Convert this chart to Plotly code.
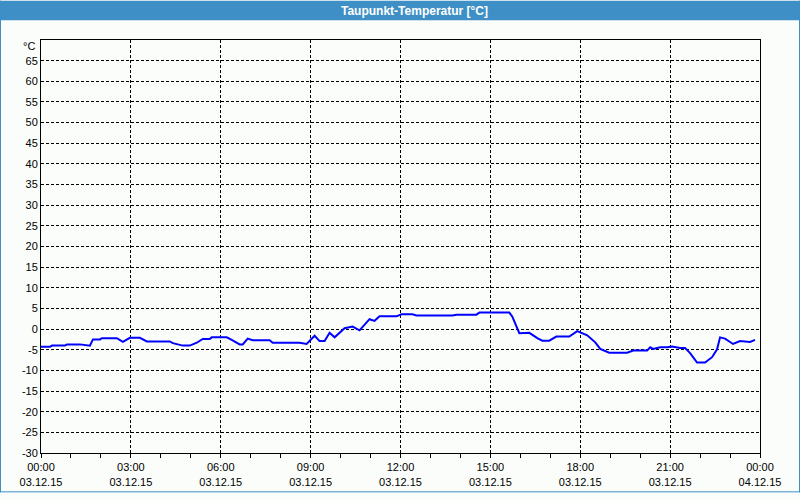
import plotly.graph_objects as go

times = ["00:00","00:18","00:22","00:48","00:52","01:18","01:38","01:44","01:58","02:02","02:32","02:44","02:58","03:18","03:32","04:18","04:24","04:44","04:58","05:12","05:24","05:38","05:42","06:12","06:22","06:38","06:44","06:54","07:04","07:38","07:44","08:38","08:52","09:08","09:18","09:28","09:38","09:48","10:08","10:24","10:38","10:58","11:08","11:18","11:52","12:02","12:24","12:32","13:44","13:52","14:32","14:38","15:38","15:44","15:58","16:14","16:18","16:34","16:44","16:58","17:12","17:38","17:54","18:14","18:30","18:40","18:58","19:34","19:46","20:14","20:20","20:26","20:40","20:54","21:04","21:20","21:30","21:40","21:54","22:10","22:24","22:34","22:40","22:50","23:06","23:20","23:34","23:40","23:50"]
values = [-4.3,-4.3,-4.0,-4.0,-3.7,-3.7,-4.0,-2.5,-2.5,-2.2,-2.2,-3.1,-2.1,-2.1,-3.0,-3.0,-3.4,-4.0,-4.0,-3.3,-2.4,-2.4,-2.0,-2.0,-2.6,-3.7,-3.7,-2.3,-2.7,-2.7,-3.3,-3.3,-3.6,-1.6,-2.9,-2.9,-0.9,-2.0,0.2,0.6,-0.3,2.4,2.0,3.1,3.1,3.6,3.6,3.3,3.3,3.5,3.5,4.0,4.0,3.0,-1.0,-0.8,-0.9,-2.2,-2.8,-2.8,-1.8,-1.8,-0.5,-1.5,-3.2,-4.8,-5.7,-5.7,-5.2,-5.2,-4.4,-4.8,-4.4,-4.4,-4.2,-4.6,-4.6,-5.8,-8.1,-8.1,-6.8,-4.9,-2.0,-2.3,-3.6,-2.9,-3.1,-3.1,-2.6]

x = ["2015-12-03 " + t for t in times]

tick_vals = ["2015-12-03 %02d:00" % h for h in range(0, 24, 3)] + ["2015-12-04 00:00"]
tick_text = ["%02d:00<br>03.12.15" % h for h in range(0, 24, 3)] + ["00:00<br>04.12.15"]
y_ticks = list(range(-30, 70, 5))

fig = go.Figure(go.Scatter(x=x, y=values, mode="lines",
                           line=dict(color="#0000ff", width=2), hoverinfo="skip"))

L, R, T, B = 41, 40, 40, 40
W, H = 800, 500
pw, ph = W - L - R, H - T - B
def px(xp): return (xp - L) / pw
def py(yp): return (H - B - yp) / ph

font = dict(family="Liberation Sans, Arial, sans-serif", size=11, color="#000000")
blue = "#3d8fc6"

fig.update_layout(
    width=W, height=H, margin=dict(l=L, r=R, t=T, b=B),
    paper_bgcolor="#fbfdfb", plot_bgcolor="#fbfdfb",
    showlegend=False, font=font,
    xaxis=dict(range=["2015-12-03 00:00", "2015-12-04 00:00"], tickvals=tick_vals, ticktext=tick_text,
               showgrid=True, gridcolor="#000000", griddash="3px,2px", gridwidth=1,
               showline=True, linecolor="#000000", linewidth=1, mirror=True,
               ticks="outside", ticklen=4, tickcolor="#000000", zeroline=False,
               minor=dict(dtick=3600000, ticks="outside", ticklen=4, tickcolor="#000000", showgrid=False)),
    yaxis=dict(range=[-30, 70], tickvals=y_ticks, ticktext=[str(v) for v in y_ticks],
               showgrid=True, gridcolor="#000000", griddash="3px,2px", gridwidth=1,
               showline=True, linecolor="#000000", linewidth=1, mirror=True,
               ticks="", zeroline=False),
    shapes=[
        dict(type="rect", xref="paper", yref="paper", x0=px(0), x1=px(W), y0=py(20), y1=py(0),
             fillcolor=blue, line=dict(width=0), layer="above"),
        dict(type="line", xref="paper", yref="paper", x0=px(0.5), x1=px(0.5), y0=py(0), y1=py(H),
             line=dict(color=blue, width=1)),
        dict(type="line", xref="paper", yref="paper", x0=px(W - 0.5), x1=px(W - 0.5), y0=py(0), y1=py(H),
             line=dict(color=blue, width=1)),
        dict(type="line", xref="paper", yref="paper", x0=px(0), x1=px(W), y0=py(H - 0.5), y1=py(H - 0.5),
             line=dict(color=blue, width=1)),
    ],
    annotations=[
        dict(text="<b>Taupunkt-Temperatur [°C]</b>", xref="paper", yref="paper", x=px(414), y=py(10),
             showarrow=False, xanchor="center", yanchor="middle",
             font=dict(family="Liberation Sans, Arial, sans-serif", size=12, color="#ffffff")),
        dict(text="°C", xref="paper", yref="y", x=0, y=70, yshift=-6, xshift=-4,
             showarrow=False, xanchor="right", yanchor="middle", font=font),
    ],
)

fig.write_html("out.html", default_width="800px", default_height="500px", config={"responsive": False})
